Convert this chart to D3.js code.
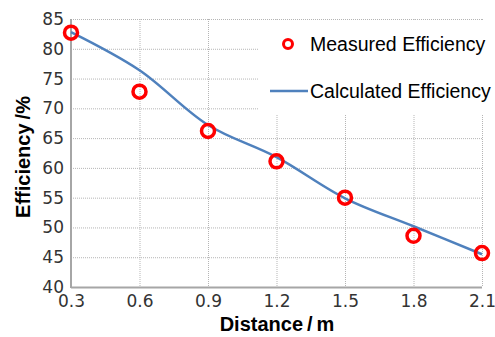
<!DOCTYPE html>
<html>
<head>
<meta charset="utf-8">
<script src="https://d3js.org/d3.v7.min.js"></script>
<style>
	body { margin: 0; background: #fff; }
	svg { display: block; }
</style>
</head>
<body>
<svg class="line-chart"></svg>
<script>
var distances = [0.3, 0.6, 0.9, 1.2, 1.5, 1.8, 2.1];
var measured = [82.7, 72.8, 66.2, 61.1, 55.0, 48.6, 45.7];
var calculated = [82.8, 76.4, 67.2, 61.8, 54.9, 50.2, 45.5];
var xTicks = [0.3, 0.6, 0.9, 1.2, 1.5, 1.8, 2.1];
var yTicks = [40, 45, 50, 55, 60, 65, 70, 75, 80, 85];
var legendNames = ["Measured Efficiency", "Calculated Efficiency"];

function drawChart() {
	var svgWidth = 495, svgHeight = 337;
	var margin = { top: 19, right: 13, bottom: 50, left: 71 };
	var width = svgWidth - margin.left - margin.right;
	var height = svgHeight - margin.top - margin.bottom;

	var svg = d3.select(".line-chart")
	.attr("width", svgWidth)
	.attr("height", svgHeight);

	var g = svg.append("g")
	.attr("transform", "translate(" + margin.left + "," + margin.top + ")");

	var x = d3.scaleLinear()
	.domain([0.3, 2.1])
	.range([0, width]);

	var y = d3.scaleLinear()
	.domain([40, 85])
	.range([height, 0]);

	// grid
	g.append("g")
	.selectAll("line")
	.data(yTicks)
	.enter().append("line")
	.attr("x1", 0)
	.attr("x2", width)
	.attr("y1", function(d) { return y(d) + 0.5 })
	.attr("y2", function(d) { return y(d) + 0.5 })
	.attr("stroke", "#b5b5b5")
	.attr("stroke-dasharray", "1,1");

	g.append("g")
	.selectAll("line")
	.data(xTicks)
	.enter().append("line")
	.attr("x1", function(d) { return x(d) + 0.5 })
	.attr("x2", function(d) { return x(d) + 0.5 })
	.attr("y1", 0)
	.attr("y2", height)
	.attr("stroke", "#b5b5b5")
	.attr("stroke-dasharray", "1,1");

	// axes
	var yAxis = g.append("g")
	.call(d3.axisLeft(y).tickValues(yTicks).tickSize(0).tickPadding(7));
	yAxis.select(".domain").remove();
	yAxis.selectAll("text")
	.attr("font-family", "DejaVu Sans")
	.attr("font-size", 17)
	.attr("fill", "#333");

	var xAxis = g.append("g")
	.attr("transform", "translate(0," + height + ")")
	.call(d3.axisBottom(x).tickValues(xTicks).tickSize(0).tickPadding(8).tickFormat(d3.format(".1f")));
	xAxis.select(".domain").remove();
	xAxis.selectAll("text")
	.attr("font-family", "DejaVu Sans")
	.attr("font-size", 17)
	.attr("fill", "#333");

	g.append("line")
	.attr("x1", 0).attr("x2", 0)
	.attr("y1", 0).attr("y2", height + 1)
	.attr("stroke", "#a6a6a6")
	.attr("stroke-width", 2);

	g.append("line")
	.attr("x1", 0).attr("x2", width)
	.attr("y1", height + 0.5).attr("y2", height + 0.5)
	.attr("stroke", "#a6a6a6")
	.attr("stroke-width", 2);

	// legend box
	var legend = svg.append("g");
	legend.append("rect")
	.attr("x", 258)
	.attr("y", 21)
	.attr("width", 232)
	.attr("height", 94)
	.attr("fill", "#fff");

	// titles
	svg.append("text")
	.attr("x", 277)
	.attr("y", 331)
	.attr("text-anchor", "middle")
	.attr("font-family", "Liberation Sans, Arial")
	.attr("font-weight", "bold")
	.attr("font-size", 20)
	.text("Distance\u2009/\u2009m");

	svg.append("text")
	.attr("transform", "translate(30,157) rotate(-90)")
	.attr("text-anchor", "middle")
	.attr("font-family", "Liberation Sans, Arial")
	.attr("font-weight", "bold")
	.attr("font-size", 20)
	.text("Efficiency\u2009/%");

	// calculated line
	var line = d3.line()
	.x(function(d, i) { return x(distances[i]) })
	.y(function(d) { return y(d) })
	.curve(d3.curveCatmullRom.alpha(0.5));

	g.append("path")
	.datum(calculated)
	.attr("fill", "none")
	.attr("stroke", "#4f81bd")
	.attr("stroke-width", 2.5)
	.attr("stroke-linejoin", "round")
	.attr("d", line);

	// measured points
	g.selectAll(".pt")
	.data(measured)
	.enter().append("circle")
	.attr("class", "pt")
	.attr("cx", function(d, i) { return x(distances[i]) })
	.attr("cy", function(d) { return y(d) })
	.attr("r", 6.5)
	.attr("fill", "none")
	.attr("stroke", "#ff0000")
	.attr("stroke-width", 3.5);

	// legend entries
	legend.append("circle")
	.attr("cx", 288)
	.attr("cy", 44)
	.attr("r", 4.5)
	.attr("fill", "none")
	.attr("stroke", "#ff0000")
	.attr("stroke-width", 3);

	legend.append("line")
	.attr("x1", 270).attr("x2", 308)
	.attr("y1", 91).attr("y2", 91)
	.attr("stroke", "#4f81bd")
	.attr("stroke-width", 2.5);

	legend.selectAll(".lt")
	.data(legendNames)
	.enter().append("text")
	.attr("class", "lt")
	.attr("x", 310)
	.attr("y", function(d, i) { return i == 0 ? 51 : 98 })
	.attr("font-family", "Liberation Sans, Arial")
	.attr("font-size", 19.5)
	.attr("fill", "#000")
	.text(function(d) { return d });
}

drawChart();
</script>
</body>
</html>
